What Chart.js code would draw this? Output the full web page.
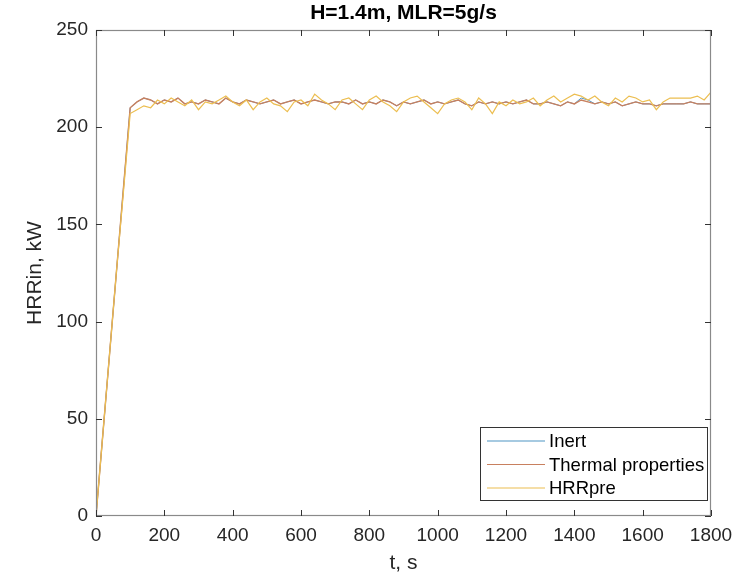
<!DOCTYPE html>
<html>
<head>
<meta charset="utf-8">
<script src="https://cdn.jsdelivr.net/npm/chart.js@4/dist/chart.umd.min.js"></script>
<style>
html,body{margin:0;padding:0;background:#fff;}
#wrap{width:753px;height:577px;position:relative;}
</style>
</head>
<body>
<div id="wrap"><canvas id="c" width="753" height="577"></canvas></div>
<script>
const chartTitle = "H=1.4m, MLR=5g/s";
const xLabel = "t, s";
const yLabel = "HRRin, kW";
const seriesNames = ["Inert", "Thermal properties", "HRRpre"];

const time = [];
for (let t = 0; t <= 1800; t += 20) time.push(t);

const thermal = [0,42,84,126,168,210,213,215,214,212,214,213,215,212,213,212,214,213,212,215,
213,212,214,213,212,213,214,212,213,214,212,213,214,213,212,213,213,212,214,212,
213,212,214,213,211,213,212,213,214,212,213,212,213,214,212,211,213,212,213,212,
213,212,213,214,212,212,213,212,211,213,212,214,213,212,213,212,213,211,212,213,
212,212,211,212,212,212,212,213,212,212,212];

const inert = [0,42,84,126,168,210,213,215,214,212,214,213,215,212,213,212,214,213,212,215,
213,212,214,213,212,213,214,212,213,214,212,213,214,213,212,213,213,212,214,212,
213,212,214,213,211,213,212,213,214,212,213,212,213,214,212,211,213,212,213,212,
213,212,213,214,212,212,213,212,211,213,212,215,214,212,213,212,213,211,212,213,
212,212,211,212,212,212,212,213,212,212,212];

const hrrpre = [0,42,84,126,166,207,209,211,210,214,212,215,213,211,214,209,213,212,214,216,
213,211,214,209,213,215,212,211,208,213,214,211,217,214,212,209,214,215,212,209,
214,216,213,211,208,213,215,216,213,210,207,212,214,215,213,209,215,212,207,213,
211,214,212,213,215,211,214,216,213,215,217,216,214,216,213,211,215,213,216,215,
213,214,209,213,215,215,215,215,216,214,218];

const xTicks = [0,200,400,600,800,1000,1200,1400,1600,1800];
const yTicks = [0,50,100,150,200,250];

const colors = ["#4f95c4", "rgb(200,128,95)", "rgb(236,190,80)"];
const widths = [1, 1.4, 1.2];
const FONT = "'Liberation Sans', Arial, sans-serif";

function toXY(arr){ return arr.map((v,i)=>({x: time[i], y: v})); }

const decor = {
  id: 'decor',
  afterDraw(chart){
    const {ctx, chartArea: a, scales} = chart;
    const xs = scales.x, ys = scales.y;
    ctx.save();
    // box
    ctx.strokeStyle = '#8a8a8a';
    ctx.lineWidth = 1.2;
    ctx.strokeRect(a.left + 0.5, a.top + 0.5, a.right - a.left - 1, a.bottom - a.top - 1);
    // inward ticks
    const tl = 6;
    ctx.strokeStyle = '#333';
    ctx.lineWidth = 1;
    ctx.beginPath();
    xTicks.forEach(v => {
      const px = Math.round(xs.getPixelForValue(v)) + 0.5;
      ctx.moveTo(px, a.bottom); ctx.lineTo(px, a.bottom - tl);
      ctx.moveTo(px, a.top); ctx.lineTo(px, a.top + tl);
    });
    yTicks.forEach(v => {
      const py = Math.round(ys.getPixelForValue(v)) + 0.5;
      ctx.moveTo(a.left, py); ctx.lineTo(a.left + tl, py);
      ctx.moveTo(a.right, py); ctx.lineTo(a.right - tl, py);
    });
    ctx.stroke();
    // title
    ctx.fillStyle = '#000';
    ctx.font = "bold 21px " + FONT;
    ctx.textAlign = 'center';
    ctx.textBaseline = 'middle';
    ctx.fillText(chartTitle, (a.left + a.right) / 2, 13);
    // axis labels
    ctx.fillStyle = '#262626';
    ctx.font = "21px " + FONT;
    ctx.fillText(xLabel, (a.left + a.right) / 2, 563);
    ctx.save();
    ctx.translate(35, (a.top + a.bottom) / 2);
    ctx.rotate(-Math.PI / 2);
    ctx.fillText(yLabel, 0, 0);
    ctx.restore();
    // legend
    const lx = 480, ly = 427, lw = 227, lh = 73;
    ctx.fillStyle = '#fff';
    ctx.fillRect(lx, ly, lw, lh);
    ctx.strokeStyle = '#333';
    ctx.lineWidth = 1;
    ctx.strokeRect(lx + 0.5, ly + 0.5, lw, lh);
    ctx.font = "18.5px " + FONT;
    ctx.textAlign = 'left';
    ctx.textBaseline = 'middle';
    chart.data.datasets.forEach((ds, i) => {
      const yy = ly + 14 + i * 23.5;
      ctx.strokeStyle = ds.borderColor;
      ctx.lineWidth = 1.2;
      ctx.beginPath();
      ctx.moveTo(487, yy); ctx.lineTo(545, yy);
      ctx.stroke();
      ctx.fillStyle = '#000';
      ctx.fillText(ds.label, 549, yy + 1);
    });
    ctx.restore();
  }
};

new Chart(document.getElementById('c'), {
  type: 'line',
  data: {
    datasets: [
      {label: seriesNames[0], data: toXY(inert), borderColor: colors[0], borderWidth: widths[0], order: 3},
      {label: seriesNames[1], data: toXY(thermal), borderColor: colors[1], borderWidth: widths[1], order: 2},
      {label: seriesNames[2], data: toXY(hrrpre), borderColor: colors[2], borderWidth: widths[2], order: 1}
    ].map(d => Object.assign(d, {pointRadius: 0, tension: 0, fill: false}))
  },
  options: {
    responsive: false,
    animation: false,
    layout: {padding: {left: 0, right: 42, top: 30, bottom: 0}},
    plugins: {legend: {display: false}, title: {display: false}, tooltip: {enabled: false}},
    scales: {
      x: {
        type: 'linear', min: 0, max: 1800,
        afterFit(s){ s.height = 61; },
        afterBuildTicks(s){ s.ticks = xTicks.map(v => ({value: v})); },
        grid: {display: false, drawTicks: false},
        border: {display: false},
        ticks: {color: '#262626', font: {family: FONT, size: 19}, padding: 8, maxRotation: 0, autoSkip: false,
                callback: v => String(v)}
      },
      y: {
        type: 'linear', min: 0, max: 250,
        afterFit(s){ s.width = 96; },
        afterBuildTicks(s){ s.ticks = yTicks.map(v => ({value: v})); },
        grid: {display: false, drawTicks: false},
        border: {display: false},
        ticks: {color: '#262626', font: {family: FONT, size: 19}, padding: 8, autoSkip: false,
                callback: v => String(v)}
      }
    }
  },
  plugins: [decor]
});
</script>
</body>
</html>
